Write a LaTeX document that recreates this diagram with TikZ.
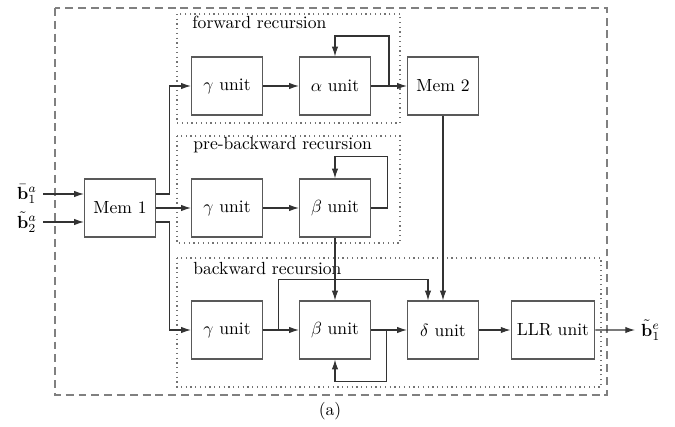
\documentclass[tikz,border=0pt]{standalone}
\usepackage{amsmath}
\usepackage{amssymb}
\usepackage{xcolor}
\usepackage{tikz}
\usetikzlibrary{shapes, arrows, arrows.meta, positioning, calc}

\begin{document}
\begin{tikzpicture}[node distance=2.16cm, auto, >={Latex[length=5.5pt, width=3.6pt]},
    unitstyle/.style={rectangle, draw=black!65, line width=0.7pt, minimum width=1.42cm, minimum height=1.16cm},
    wire/.style={draw=black!80, line width=0.6pt},
    groupbox/.style={draw=black!55, dotted, line width=0.7pt},
    outerbox/.style={draw=black!50, dash pattern=on 4.5pt off 2.8pt, line width=0.7pt},
    grouplabel/.style={anchor=west, inner sep=0pt}]

    \useasboundingbox (0,0) rectangle (13.5,-8.54);

    % units
    \node[unitstyle] (mem1) at (2.40,-4.16) {Mem 1};
    \node[unitstyle, right of=mem1, node distance=2.14cm] (gpre) {$\gamma$ unit};
    \node[unitstyle, above of=gpre, node distance=2.44cm] (gfwd) {$\gamma$ unit};
    \node[unitstyle, below of=gpre, node distance=2.44cm] (gbwd) {$\gamma$ unit};
    \node[unitstyle, right of=gfwd] (afwd) {$\alpha$ unit};
    \node[unitstyle, right of=afwd] (mem2) {Mem 2};
    \node[unitstyle, right of=gpre] (bpre) {$\beta$ unit};
    \node[unitstyle, right of=gbwd] (bbwd) {$\beta$ unit};
    \node[unitstyle, right of=bbwd] (dbwd) {$\delta$ unit};
    \node[unitstyle, right of=dbwd, node distance=2.2cm, minimum width=1.58cm] (llr) {LLR unit};

    % recursion groups
    \draw[groupbox] (3.54,-0.28) rectangle (8.0,-2.46);
    \node[grouplabel] (lfwd) at (3.84,-0.45) {forward recursion};
    \draw[groupbox] (3.54,-2.72) rectangle (8.0,-4.86);
    \node[grouplabel] (lpre) at (3.86,-2.90) {pre-backward recursion};
    \draw[groupbox] (3.54,-5.16) rectangle (12.02,-7.74);
    \node[grouplabel] (lbwd) at (3.86,-5.36) {backward recursion};
    \draw[outerbox] (1.1,-0.16) rectangle (12.14,-7.9);

    % inputs and output
    \node[anchor=east] (bin1) at (0.86,-3.88) {$\bar{\mathbf{b}}_1^a$};
    \node[anchor=east] (bin2) at (0.86,-4.44) {$\tilde{\mathbf{b}}_2^a$};
    \node[anchor=west] (bout) at (12.70,-6.60) {$\tilde{\mathbf{b}}_1^e$};

    \draw[wire, ->] (bin1) -- (bin1 -| mem1.west);
    \draw[wire, ->] (bin2) -- (bin2 -| mem1.west);
    \draw[wire, ->] (bin1 -| mem1.east) -- ++(0.26,0) |- (gfwd.west);
    \draw[wire, ->] (mem1) -- (gpre);
    \draw[wire, ->] (bin2 -| mem1.east) -- ++(0.26,0) |- (gbwd.west);

    % forward recursion
    \draw[wire, ->] (gfwd) -- (afwd);
    \draw[wire, ->] (afwd) -- (mem2);
    \draw[wire, ->] ($(afwd.east)!0.5!(mem2.west)$) -- ++(0,1.0) -| (afwd.north);

    % pre-backward recursion
    \draw[wire, ->] (gpre) -- (bpre);
    \draw[wire, ->] (bpre.east) -- ++(0.32,0) |- ($(bpre.north)+(0,0.44)$) -- (bpre.north);

    % backward recursion
    \draw[wire, ->] (gbwd) -- (bbwd);
    \draw[wire, ->] ($(gbwd.east)+(0.3,0)$) |- ($(dbwd.north)+(-0.3,0.42)$) -- ($(dbwd.north)+(-0.3,0)$);
    \draw[wire, ->] (bpre) -- (bbwd);
    \draw[wire, ->] (mem2) -- (dbwd);
    \draw[wire, ->] (bbwd) -- (dbwd);
    \draw[wire, ->] ($(bbwd.east)+(0.3,0)$) |- ($(bbwd.south)+(0,-0.44)$) -- (bbwd.south);
    \draw[wire, ->] (dbwd) -- (llr);
    \draw[wire, ->] (llr) -- (bout);

    \node (caption) at (6.6,-8.22) {(a)};
\end{tikzpicture}
\end{document}
